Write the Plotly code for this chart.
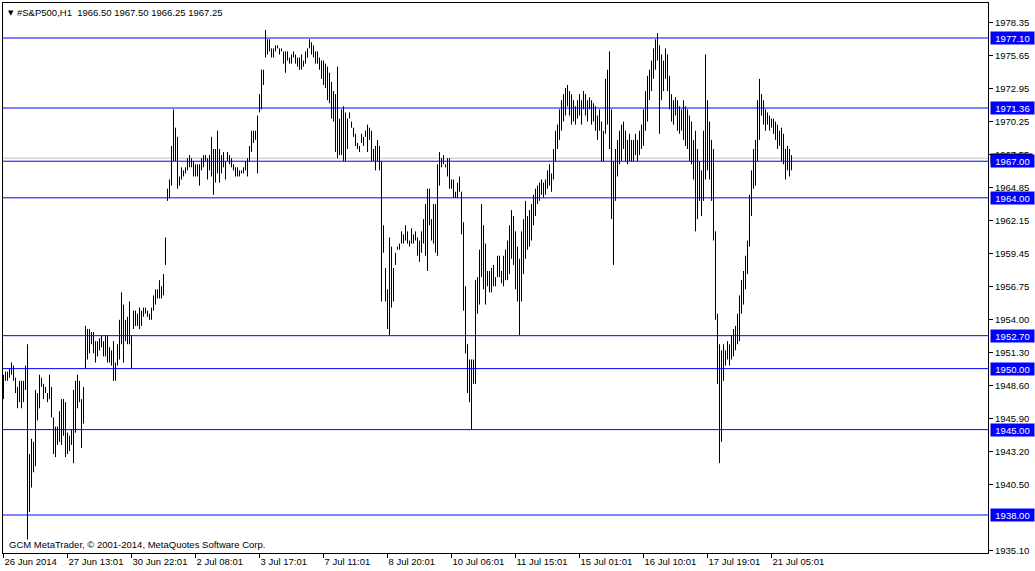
import plotly.graph_objects as go

# H1 bars, #S&P500, 26 Jun 2014 -> 21 Jul 2014 (high / low per bar)
highs = [
    1949.50, 1949.75, 1949.75, 1950.00, 1950.50, 1950.25, 1949.25, 1948.50, 1949.00, 1949.00,
    1949.00, 1950.25, 1952.00, 1943.00, 1944.25, 1944.00, 1948.25, 1948.00, 1949.50, 1949.25,
    1948.75, 1948.50, 1948.00, 1949.50, 1948.50, 1946.00, 1945.25, 1945.25, 1946.50, 1947.50,
    1947.50, 1947.25, 1944.75, 1944.50, 1945.00, 1948.25, 1949.00, 1949.50, 1949.00, 1947.50,
    1948.50, 1953.50, 1953.25, 1953.25, 1953.00, 1953.00, 1952.25, 1952.25, 1952.50, 1952.75,
    1952.25, 1952.75, 1952.75, 1951.75, 1951.50, 1952.25, 1950.50, 1952.00, 1954.00, 1956.25,
    1955.25, 1954.00, 1954.25, 1955.50, 1952.75, 1954.75, 1954.75, 1954.50, 1955.00, 1954.75,
    1955.00, 1955.00, 1954.75, 1954.50, 1955.00, 1956.00, 1956.50, 1956.50, 1957.25, 1956.75,
    1957.75, 1960.75, 1964.75, 1965.50, 1968.25, 1971.25, 1969.75, 1969.00, 1965.75, 1966.50,
    1966.25, 1966.50, 1967.25, 1967.50, 1967.25, 1967.00, 1966.75, 1966.75, 1966.75, 1967.25,
    1967.50, 1967.50, 1967.25, 1967.50, 1969.00, 1968.00, 1968.00, 1969.50, 1968.00, 1967.50,
    1967.75, 1967.00, 1967.75, 1967.50, 1967.25, 1966.75, 1966.50, 1966.50, 1966.25, 1966.25,
    1966.50, 1967.00, 1967.25, 1968.25, 1969.50, 1969.50, 1969.50, 1970.75, 1972.50, 1974.50,
    1974.50, 1977.75, 1977.00, 1977.00, 1976.25, 1976.25, 1976.50, 1976.50, 1976.25, 1976.25,
    1976.00, 1976.00, 1976.00, 1975.50, 1975.75, 1976.00, 1975.75, 1975.50, 1975.50, 1975.75,
    1975.25, 1976.00, 1976.25, 1977.00, 1976.75, 1976.50, 1976.00, 1976.00, 1975.50, 1975.25,
    1975.25, 1975.00, 1974.75, 1974.25, 1973.50, 1972.75, 1972.50, 1974.75, 1970.50, 1971.25,
    1971.50, 1971.00, 1970.50, 1971.00, 1970.25, 1969.75, 1969.25, 1968.50, 1968.25, 1969.25,
    1969.00, 1969.50, 1970.00, 1969.75, 1969.50, 1968.00, 1968.25, 1968.75, 1968.25, 1967.00,
    1961.75, 1958.25, 1956.50, 1960.75, 1960.00, 1958.25, 1959.50, 1960.00, 1960.25, 1961.25,
    1961.00, 1961.75, 1961.25, 1960.50, 1961.50, 1961.00, 1961.25, 1960.75, 1960.50, 1961.25,
    1962.25, 1963.50, 1964.75, 1964.75, 1962.25, 1963.50, 1963.50, 1966.75, 1967.75, 1967.25,
    1967.50, 1966.75, 1967.25, 1967.25, 1965.50, 1965.50, 1964.50, 1965.25, 1965.75, 1964.50,
    1962.00, 1956.75, 1952.00, 1950.75, 1950.75, 1950.75, 1957.25, 1957.50, 1959.75, 1963.50,
    1961.75, 1960.25, 1958.00, 1958.00, 1958.25, 1958.50, 1957.50, 1959.25, 1959.25, 1958.00,
    1959.25, 1959.75, 1960.50, 1961.75, 1963.00, 1962.50, 1961.25, 1960.00, 1959.00, 1961.25,
    1962.25, 1963.75, 1962.50, 1963.00, 1963.50, 1964.25, 1964.75, 1965.00, 1965.25, 1965.50,
    1965.25, 1965.50, 1966.25, 1966.75, 1966.00, 1968.00, 1969.50, 1970.00, 1971.25, 1972.00,
    1972.50, 1973.00, 1973.25, 1972.75, 1972.50, 1972.00, 1971.50, 1972.00, 1972.50, 1972.00,
    1972.75, 1972.50, 1972.00, 1972.25, 1972.00, 1971.75, 1971.50, 1970.75, 1971.25, 1970.25,
    1969.50, 1973.75, 1974.50, 1976.00, 1971.25, 1967.00, 1968.00, 1968.75, 1969.50, 1970.00,
    1970.25, 1969.50, 1968.75, 1969.25, 1968.75, 1968.75, 1969.25, 1968.75, 1969.50, 1970.00,
    1971.25, 1972.75, 1974.00, 1974.50, 1975.25, 1976.25, 1977.00, 1977.50, 1976.50, 1975.75,
    1975.25, 1976.25, 1975.75, 1974.00, 1972.50, 1972.00, 1972.25, 1972.00, 1971.50, 1971.25,
    1972.00, 1971.50, 1971.25, 1970.75, 1970.25, 1968.75, 1969.50, 1968.00, 1967.00, 1966.25,
    1969.50, 1975.75, 1972.00, 1970.25, 1968.75, 1968.00, 1961.25, 1954.50, 1952.00, 1951.50,
    1952.00, 1951.50, 1952.25, 1952.00, 1952.75, 1953.25, 1953.50, 1954.50, 1956.00, 1957.25,
    1958.00, 1959.25, 1960.50, 1964.25, 1966.25, 1968.00, 1968.75, 1972.00, 1973.75, 1972.50,
    1972.00, 1971.25, 1971.00, 1970.75, 1970.50, 1970.50, 1970.25, 1970.00, 1969.50, 1969.75,
    1969.25, 1968.00, 1968.25, 1968.00, 1967.50,
]
lows = [
    1947.50, 1949.00, 1949.00, 1949.25, 1949.50, 1949.00, 1948.00, 1946.75, 1947.25, 1946.75,
    1947.25, 1948.25, 1936.00, 1938.25, 1940.25, 1941.50, 1942.00, 1945.75, 1946.75, 1948.50,
    1947.50, 1948.00, 1947.25, 1947.50, 1946.00, 1943.00, 1942.75, 1943.75, 1944.00, 1943.75,
    1944.50, 1942.75, 1943.00, 1943.25, 1943.75, 1942.25, 1944.75, 1946.75, 1947.25, 1943.50,
    1945.50, 1950.00, 1950.75, 1951.25, 1952.00, 1951.25, 1950.50, 1951.00, 1951.50, 1951.75,
    1951.00, 1951.00, 1950.50, 1950.50, 1950.25, 1949.00, 1949.00, 1950.25, 1950.75, 1952.00,
    1950.50, 1952.25, 1952.00, 1952.00, 1950.00, 1953.25, 1953.50, 1953.50, 1953.25, 1953.50,
    1954.25, 1954.50, 1954.25, 1954.00, 1954.00, 1954.75, 1955.25, 1955.75, 1955.75, 1955.75,
    1956.00, 1958.50, 1963.75, 1964.00, 1965.00, 1967.00, 1967.00, 1964.75, 1965.00, 1965.50,
    1965.75, 1966.00, 1966.25, 1966.50, 1966.50, 1965.75, 1965.75, 1965.75, 1965.00, 1966.25,
    1966.50, 1967.00, 1965.50, 1966.25, 1965.75, 1964.25, 1965.25, 1966.00, 1965.25, 1966.00,
    1966.50, 1965.50, 1967.00, 1966.75, 1966.50, 1966.25, 1965.75, 1965.75, 1965.75, 1966.00,
    1966.00, 1966.25, 1965.75, 1967.00, 1967.75, 1968.50, 1968.75, 1966.00, 1971.00, 1971.25,
    1973.25, 1975.50, 1975.75, 1976.00, 1975.50, 1975.50, 1976.00, 1976.25, 1975.75, 1976.00,
    1975.00, 1974.25, 1975.25, 1975.00, 1975.00, 1975.50, 1975.00, 1974.75, 1974.50, 1974.50,
    1974.75, 1975.00, 1975.50, 1976.25, 1975.75, 1975.50, 1975.00, 1975.00, 1974.50, 1973.75,
    1973.25, 1973.00, 1972.00, 1971.75, 1970.50, 1970.25, 1967.75, 1967.25, 1967.50, 1967.50,
    1967.00, 1967.00, 1968.00, 1970.50, 1969.75, 1969.00, 1968.25, 1968.00, 1967.75, 1968.50,
    1968.25, 1969.00, 1967.75, 1968.75, 1967.00, 1967.00, 1966.25, 1967.00, 1966.25, 1955.50,
    1959.50, 1955.50, 1953.25, 1952.75, 1955.00, 1955.50, 1958.50, 1959.75, 1959.75, 1960.25,
    1960.25, 1960.50, 1960.25, 1960.00, 1960.25, 1960.25, 1960.50, 1959.25, 1958.75, 1959.50,
    1960.25, 1959.25, 1958.00, 1961.75, 1960.50, 1960.25, 1959.50, 1959.25, 1965.00, 1966.50,
    1966.75, 1966.50, 1965.75, 1964.75, 1964.75, 1964.00, 1964.00, 1964.00, 1964.50, 1961.00,
    1954.75, 1951.25, 1948.00, 1947.25, 1945.00, 1948.75, 1948.75, 1954.50, 1955.25, 1957.50,
    1956.50, 1955.25, 1956.75, 1956.25, 1956.25, 1956.75, 1956.75, 1957.50, 1957.50, 1957.00,
    1956.75, 1957.25, 1957.25, 1957.75, 1959.00, 1958.50, 1956.50, 1955.50, 1952.75, 1955.50,
    1957.75, 1959.00, 1959.75, 1960.00, 1960.50, 1961.75, 1962.50, 1963.50, 1963.75, 1964.25,
    1964.00, 1964.25, 1964.75, 1965.00, 1964.50, 1965.50, 1967.00, 1968.00, 1968.75, 1969.50,
    1970.25, 1970.75, 1971.50, 1970.75, 1970.00, 1970.25, 1970.00, 1970.50, 1970.75, 1970.00,
    1971.25, 1970.75, 1970.25, 1971.25, 1970.00, 1970.25, 1969.50, 1968.75, 1969.50, 1967.00,
    1967.00, 1969.25, 1970.00, 1968.00, 1962.25, 1958.50, 1963.75, 1965.75, 1966.75, 1967.00,
    1968.00, 1967.00, 1966.75, 1967.00, 1967.00, 1967.00, 1967.50, 1967.00, 1967.50, 1968.00,
    1968.25, 1969.50, 1970.25, 1972.00, 1972.75, 1973.75, 1974.50, 1975.25, 1969.25, 1972.00,
    1972.75, 1973.75, 1972.75, 1971.25, 1970.25, 1970.00, 1970.75, 1969.50, 1969.25, 1969.50,
    1968.75, 1968.25, 1968.00, 1967.00, 1966.75, 1965.50, 1961.25, 1962.25, 1963.75, 1962.50,
    1963.75, 1965.50, 1966.25, 1965.50, 1963.75, 1960.50, 1954.00, 1948.75, 1942.25, 1944.00,
    1949.00, 1950.25, 1950.75, 1950.25, 1950.75, 1951.00, 1951.50, 1952.00, 1952.25, 1954.50,
    1955.25, 1956.50, 1957.75, 1960.00, 1962.50, 1964.75, 1965.00, 1967.00, 1968.75, 1970.75,
    1970.00, 1969.50, 1970.00, 1969.50, 1969.75, 1969.25, 1968.75, 1968.00, 1968.25, 1967.00,
    1966.75, 1965.50, 1966.25, 1965.75, 1966.25,
]

# last bar OHLC shown in the header
last_ohlc = [1966.50, 1967.50, 1966.25, 1967.25]
bid = 1967.25

# horizontal levels drawn on the chart
levels = [1977.10, 1971.36, 1967.00, 1964.00, 1952.70, 1950.00, 1945.00, 1938.00]

# price scale ticks (1937.80 sits under the 1938.00 label, so it is left out)
price_ticks = [1978.35, 1975.65, 1972.95, 1970.25, 1967.55, 1964.85, 1962.15, 1959.45,
               1956.75, 1954.00, 1951.30, 1948.60, 1945.90, 1943.20, 1940.50, 1935.10]

# time scale labels (every 32 bars)
time_labels = ["26 Jun 2014", "27 Jun 13:01", "30 Jun 22:01", "2 Jul 08:01", "3 Jul 17:01",
               "7 Jul 11:01", "8 Jul 20:01", "10 Jul 06:01", "11 Jul 15:01", "15 Jul 01:01",
               "16 Jul 10:01", "17 Jul 19:01", "21 Jul 05:01"]
label_step = 32

FONT = "Tahoma, 'Liberation Sans', Arial, sans-serif"
LEVEL_BLUE = "#0000FF"

# one vertical segment per bar (low -> high)
xs, ys = [], []
for i, (h, l) in enumerate(zip(highs, lows)):
    xs += [i, i, None]
    ys += [l, h, None]

fig = go.Figure()
fig.add_trace(go.Scatter(
    x=xs, y=ys, mode="lines",
    line=dict(color="black", width=1),
    hoverinfo="skip", showlegend=False
))

shapes = []
for lv in levels:
    shapes.append(dict(type="line", xref="paper", x0=0, x1=1, yref="y", y0=lv, y1=lv,
                       line=dict(color=LEVEL_BLUE, width=1)))
# bid line
shapes.append(dict(type="line", xref="paper", x0=0, x1=1, yref="y", y0=bid, y1=bid,
                   line=dict(color="#C0C0C0", width=1), layer="below"))

annotations = []
# bid label (mostly hidden behind the 1967.00 level label)
annotations.append(dict(xref="paper", x=1, xanchor="left", xshift=2, yref="y", y=bid,
                        yanchor="middle", text=f"{bid:.2f}", showarrow=False,
                        font=dict(family=FONT, size=9.5, color="white"),
                        bgcolor="black", width=41, height=9, borderpad=0))
for lv in levels:
    annotations.append(dict(xref="paper", x=1, xanchor="left", xshift=2, yref="y", y=lv,
                            yanchor="middle", text=f"{lv:.2f}", showarrow=False,
                            font=dict(family=FONT, size=9.5, color="white"),
                            bgcolor=LEVEL_BLUE, width=41, height=10, borderpad=1))

# header
annotations.append(dict(xref="paper", yref="paper", x=0, y=1, xanchor="left", yanchor="top",
                        xshift=3, yshift=-4, text="▼", showarrow=False,
                        font=dict(family="DejaVu Sans", size=7, color="black")))
annotations.append(dict(xref="paper", yref="paper", x=0, y=1, xanchor="left", yanchor="top",
                        xshift=12, yshift=-2,
                        text="#S&P500,H1  " + " ".join(f"{v:.2f}" for v in last_ohlc),
                        showarrow=False, font=dict(family=FONT, size=9.5, color="black")))
annotations.append(dict(xref="paper", yref="paper", x=0, y=0, xanchor="left", yanchor="bottom",
                        xshift=4, yshift=1,
                        text="GCM MetaTrader, © 2001-2014, MetaQuotes Software Corp.",
                        showarrow=False, font=dict(family=FONT, size=9.5, color="black")))

fig.update_layout(
    width=1035, height=571,
    margin=dict(l=3, r=47, t=3, b=18),
    paper_bgcolor="white", plot_bgcolor="white",
    showlegend=False, hovermode=False,
    shapes=shapes, annotations=annotations,
    font=dict(family=FONT, size=9.5, color="black"),
    xaxis=dict(
        range=[-0.25, 492.25], showgrid=False, zeroline=False,
        showline=True, linecolor="black", linewidth=1, mirror=True,
        tickvals=[i * label_step for i in range(len(time_labels))],
        ticktext=time_labels, ticks="outside", ticklen=4, tickcolor="black",
        ticklabelposition="outside right",
        tickfont=dict(family=FONT, size=9.5, color="black"),
    ),
    yaxis=dict(
        range=[1934.887, 1979.969], side="right", showgrid=False, zeroline=False,
        showline=True, linecolor="black", linewidth=1, mirror=True,
        tickvals=price_ticks, ticktext=[f"{v:.2f}" for v in price_ticks],
        ticks="outside", ticklen=4, tickcolor="black",
        tickfont=dict(family=FONT, size=9.5, color="black"),
    ),
)

# page body margin off so the figure sits at the window's top-left corner
fig.write_html("out.html", config={"displayModeBar": False},
               post_script="document.body.style.margin='0';")
